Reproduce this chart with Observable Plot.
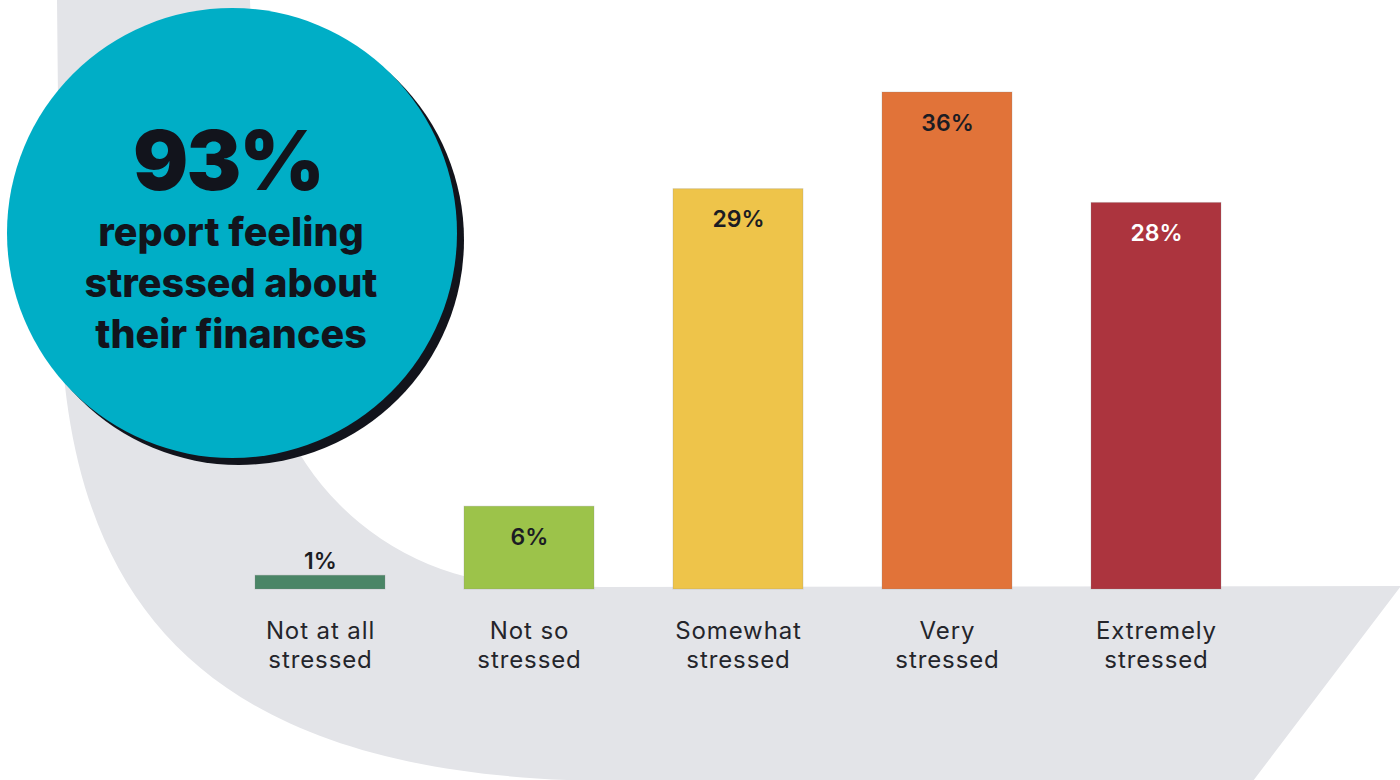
<!DOCTYPE html>
<html>
<head>
<meta charset="utf-8">
<script src="https://cdn.jsdelivr.net/npm/d3@7"></script>
<script src="https://cdn.jsdelivr.net/npm/@observablehq/plot@0.6"></script>
<style>
  body { margin: 0; background: #ffffff; }
  #chart { width: 1400px; height: 780px; position: relative; overflow: hidden; }
  #chart g[aria-label="x-axis tick label"] { letter-spacing: 0.9px; }
</style>
</head>
<body>
<div id="chart"></div>
<script>
// Survey responses: how stressed people feel about their finances
const categories = ["Not at all stressed", "Not so stressed", "Somewhat stressed", "Very stressed", "Extremely stressed"];
const shares = [1, 6, 29, 36, 28];
const palette = ["#4a8566", "#9cc34a", "#eec44a", "#e17339", "#ac343e"];
const headline = "93%";
const headlineLines = ["report feeling", "stressed about", "their finances"];

const FONT = "Inter, 'DejaVu Sans', sans-serif";
const INK = "#1b1c23";

const rows = categories.map((category, i) => ({category, share: shares[i], color: palette[i]}));
const isDark = d => d3.lab(d.color).l < 50;
const twoLines = s => s.replace(/ (?=[^ ]*$)/, "\n");
const pct = d => `${d.share}%`;
const valueStyle = {x: "category", y: "share", text: pct, lineAnchor: "bottom", fontSize: 23, fontWeight: 600};

const chart = Plot.plot({
  width: 1400,
  height: 780,
  marginLeft: 149,
  marginRight: 73,
  marginTop: 92,
  marginBottom: 191,
  style: {background: "transparent", fontFamily: FONT, overflow: "visible"},
  x: {domain: categories, paddingInner: 0.38, paddingOuter: 0.5, axis: null},
  y: {domain: [0, 36], axis: null},
  color: {domain: categories, range: palette},
  marks: [
    Plot.barY(rows, {x: "category", y: "share", fill: "category", stroke: "#8a8a8a", strokeOpacity: 0.25, strokeWidth: 1}),
    // small bars get their value above, the rest inside near the top
    Plot.text(rows.filter(d => d.share < 3), {...valueStyle, dy: -7, fill: INK}),
    Plot.text(rows.filter(d => d.share >= 3 && !isDark(d)), {...valueStyle, dy: 38, fill: INK}),
    Plot.text(rows.filter(d => d.share >= 3 && isDark(d)), {...valueStyle, dy: 38, fill: "#ffffff"}),
    Plot.axisX({label: null, tickSize: 0, tickPadding: 29, fontSize: 24, lineHeight: 1.2, tickFormat: twoLines, fill: "#24252b"})
  ]
});

// Backdrop: grey swoosh plus the headline bubble, placed beneath the bars
function drawBackdrop(svgNode) {
  const svg = d3.select(svgNode);
  const g = svg.insert("g", ":first-child").attr("class", "backdrop");

  // outer edge runs down the left and sweeps into the bottom; inner edge is a circular arc
  const swoosh = [
    "M57,0",
    "L60,300",
    "C63,600 200,781 620,781",
    "L1253,781",
    "L1401,586",
    "L600,587",
    "L533,585",
    "A273,273 0 0 1 260,312",
    "L250,0",
    "Z"
  ].join("");
  g.append("path").attr("d", swoosh).attr("fill", "#e3e4e8");

  const cx = 232, cy = 233, r = 225;
  g.append("circle").attr("cx", cx + 7).attr("cy", cy + 7).attr("r", r).attr("fill", "#12141c");
  g.append("circle").attr("cx", cx).attr("cy", cy).attr("r", r).attr("fill", "#00aec6");

  g.append("text")
    .attr("x", cx - 4).attr("y", 190)
    .attr("text-anchor", "middle")
    .attr("font-family", FONT).attr("font-weight", 900).attr("font-size", 82)
    .attr("letter-spacing", -2)
    .attr("fill", "#12141c")
    .text(headline);

  headlineLines.forEach((line, i) => {
    g.append("text")
      .attr("x", cx - 1).attr("y", 246 + i * 51)
      .attr("text-anchor", "middle")
      .attr("font-family", FONT).attr("font-weight", 800).attr("font-size", 39.5)
      .attr("fill", "#12141c")
      .text(line);
  });
}

drawBackdrop(chart);
document.getElementById("chart").appendChild(chart);
</script>
</body>
</html>
